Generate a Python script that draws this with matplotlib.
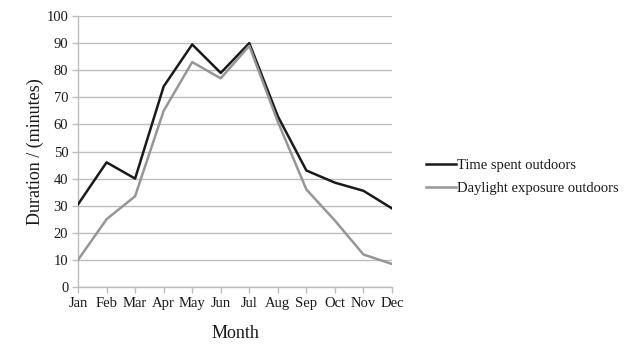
import matplotlib.pyplot as plt

months = ['Jan', 'Feb', 'Mar', 'Apr', 'May', 'Jun', 'Jul', 'Aug', 'Sep', 'Oct', 'Nov', 'Dec']
time_outdoors = [30.5, 46, 40, 74, 89.5, 79, 90, 63, 43, 38.5, 35.5, 29]
daylight_outdoors = [10, 25, 33.5, 65, 83, 77, 89, 61, 36, 24.5, 12, 8.5]

plt.rcParams['font.family'] = ['Liberation Serif', 'DejaVu Serif']

fig = plt.figure(figsize=(6.4, 3.58), dpi=100)
ax = fig.add_axes([0.1219, 0.1983, 0.4906, 0.757])

x = range(len(months))
ax.plot(x, time_outdoors, color='#1a1a1a', lw=1.8, label='Time spent outdoors', zorder=3)
ax.plot(x, daylight_outdoors, color='#969696', lw=1.8, label='Daylight exposure outdoors', zorder=3)

ax.set_xlim(0, len(months) - 1)
ax.set_ylim(0, 100)
ax.set_yticks(range(0, 101, 10))
ax.set_xticks(list(x))
ax.set_xticklabels(months)
ax.grid(axis='y', color='#bdbdbd', lw=1)
ax.set_axisbelow(True)

for s in ['top', 'right']:
    ax.spines[s].set_visible(False)
for s in ['left', 'bottom']:
    ax.spines[s].set_color('#bdbdbd')
    ax.spines[s].set_linewidth(1)
ax.tick_params(axis='both', colors='#bdbdbd', labelcolor='#1a1a1a', labelsize=10.5, length=4, width=1, pad=3)

ax.set_xlabel('Month', fontsize=13, color='#1a1a1a', labelpad=11)
ax.set_ylabel('Duration / (minutes)', fontsize=13, color='#1a1a1a', labelpad=2)

leg = fig.legend(loc='center left', bbox_to_anchor=(0.645, 0.505), frameon=False,
                 fontsize=10.5, handlelength=2.05, handletextpad=0.1, labelspacing=0.65)
for t in leg.get_texts():
    t.set_color('#1a1a1a')

fig.savefig('out.png', dpi=100)
